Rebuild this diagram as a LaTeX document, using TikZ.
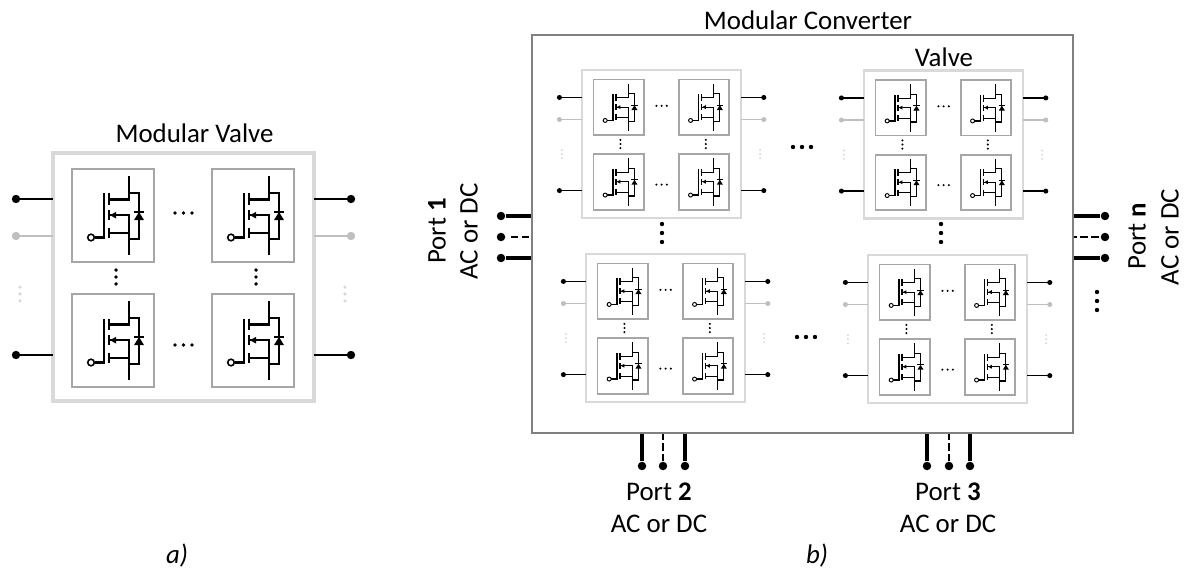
\documentclass[tikz,border=0pt]{standalone}
\usepackage{fontspec}
\setmainfont{Carlito}
\definecolor{valvegray}{HTML}{D9D9D9}
\definecolor{modgray}{HTML}{A6A6A6}
\definecolor{convgray}{HTML}{808080}
\definecolor{termgray}{HTML}{BFBFBF}
\tikzset{
  modbox/.style={draw=modgray,line width=\lf*1.7pt},
  valvebox/.style={draw=valvegray,line width=\lf*2.3pt},
  mosline/.style={line width=\lf*1.15pt},
  termline/.style={line width=\lf*1.5pt},
  portdot/.style={circle,fill=black,inner sep=0pt,minimum size=8.5pt*0.569},
  portline/.style={line width=1.8pt},
  portdash/.style={line width=1pt,dash pattern=on 4.2pt off 2pt},
  convbox/.style={draw=convgray,line width=1.2pt,minimum width=10.82cm,minimum height=7.96cm,inner sep=0pt},
  every node/.style={font=\fontsize{15.3}{18}\selectfont},
}
\begin{document}
\begin{tikzpicture}[x=0.02cm,y=-0.02cm]
  \useasboundingbox (0,0) rectangle (1184,571);
  \newcommand{\mosfet}[2]{
    \begin{scope}[shift={(#1,#2)}]
      \draw[modbox] (-41,-46.5) rectangle (41,46.5);
      \draw[mosline] (15.7,-39.3) -- (15.7,-16) -- (-4.3,-16);
      \draw[mosline] (-4.3,-22) -- (-4.3,-10.3);
      \draw[mosline] (-4.3,-5.3) -- (-4.3,4.7);
      \draw[mosline] (-4.3,12) -- (-4.3,22);
      \draw[mosline] (-4.3,-0.3) -- (15.7,-0.3) -- (15.7,39.7);
      \draw[mosline] (-4.3,17.3) -- (15.7,17.3);
      \fill (-3,-0.3) -- (3,-3.6) -- (3,3) -- cycle;
      \draw[mosline] (-9.3,-22) -- (-9.3,22) -- (-18.3,22);
      \draw[line width=\lf*0.9pt,fill=white] (-22,22) circle[radius=3.3];
      \draw[mosline] (15.7,-22.7) -- (26,-22.7) -- (26,23.7) -- (15.7,23.7);
      \fill (26,-3.5) -- (31,4.6) -- (21,4.6) -- cycle;
      \draw[mosline] (21,-3.5) -- (31,-3.5);
    \end{scope}
  }
  \newcommand{\dotrow}[4]{
    \foreach \t in {-1,0,1} {
      \fill[#4] (#1,#2) ++(\t*8.5,0) circle[radius=#3];
    }
  }
  \newcommand{\dotcol}[4]{
    \foreach \t in {-1,0,1} {
      \fill[#4] (#1,#2) ++(0,\t*6.9) circle[radius=#3];
    }
  }
  \newcommand{\valve}[4]{
    \begin{scope}[shift={(#1,#2)},xscale=#3,yscale=#4]
      \def\lf{#4}
      \draw[valvebox] (0,0) rectangle (261,248);
      \foreach \cx/\cy in {60/62.5,200/62.5,60/187.5,200/187.5} {
        \mosfet{\cx}{\cy}
      }
      \foreach \ty/\tc in {46/black,83/termgray,202/black} {
        \draw[termline,draw=\tc] (-37,\ty) -- (0,\ty);
        \draw[termline,draw=\tc] (261,\ty) -- (298,\ty);
        \fill[\tc] (-37,\ty) circle[radius=4.2];
        \fill[\tc] (298,\ty) circle[radius=4.2];
      }
      \dotcol{-33}{141}{1.8}{valvegray}
      \dotcol{292}{141}{1.8}{valvegray}
      \dotrow{130.5}{60}{1.9}{black}
      \dotrow{130.5}{192}{1.9}{black}
      \dotcol{63}{124}{1.9}{black}
      \dotcol{203}{124}{1.9}{black}
    \end{scope}
  }
  \valve{53}{153}{1}{1}
  \valve{582}{70}{0.61}{0.597}
  \valve{864}{70.5}{0.61}{0.597}
  \valve{586}{254}{0.61}{0.597}
  \valve{868}{255}{0.61}{0.597}
  \node[convbox] (conv) at (802.5,234) {};
  \foreach \name/\py in {a/216,b/237,c/258} {
    \node[portdot] (pw\name) at (501,\py) {};
    \node[portdot] (pe\name) at (1105,\py) {};
  }
  \foreach \name/\px in {a/642,b/663,c/685} {
    \node[portdot] (ps\name) at (\px,466) {};
  }
  \foreach \name/\px in {a/927,b/949,c/970} {
    \node[portdot] (pt\name) at (\px,466) {};
  }
  \draw[portline] (pwa) -- (pwa -| conv.west);
  \draw[portline] (pwc) -- (pwc -| conv.west);
  \draw[portdash,shorten <=3pt,shorten >=1pt] (pwb) -- (pwb -| conv.west);
  \draw[portline] (pea) -- (pea -| conv.east);
  \draw[portline] (pec) -- (pec -| conv.east);
  \draw[portdash,shorten <=1pt] (peb) -- (peb -| conv.east);
  \draw[portline] (psa) -- (psa |- conv.south);
  \draw[portline] (psc) -- (psc |- conv.south);
  \draw[portdash] (psb) -- (psb |- conv.south);
  \draw[portline] (pta) -- (pta |- conv.south);
  \draw[portline] (ptc) -- (ptc |- conv.south);
  \draw[portdash] (ptb) -- (ptb |- conv.south);
  \foreach \t in {793,802,811} {
    \fill (\t,147) circle[radius=2.2];
  }
  \foreach \t in {797,806,815} {
    \fill (\t,337) circle[radius=2.2];
  }
  \foreach \t in {224,233,242} {
    \fill (662,\t) circle[radius=2.2];
    \fill (941,\t) circle[radius=2.2];
  }
  \foreach \t in {292,301,310} {
    \fill (1097,\t) circle[radius=2.2];
  }
  \node (lblvalve) at (194.5,133) {Modular Valve};
  \node (lblconv) at (808,20) {Modular Converter};
  \node (lblsub) at (944,57) {Valve};
  \node[rotate=90] (lblpa) at (437,231) {Port \textbf{1}};
  \node[rotate=90] (lblpb) at (469,231.5) {AC or DC};
  \node[rotate=90] (lblpc) at (1137,236) {Port \textbf{n}};
  \node[rotate=90] (lblpd) at (1170,237) {AC or DC};
  \node (lblpe) at (659,492) {Port \textbf{2}};
  \node (lblpf) at (659,524) {AC or DC};
  \node (lblpg) at (948,492) {Port \textbf{3}};
  \node (lblph) at (948,524) {AC or DC};
  \node[inner sep=0pt] (lblcapa) at (177,556) {\textit{a)}};
  \node[inner sep=0pt] (lblcapb) at (817,556) {\textit{b)}};
\end{tikzpicture}
\end{document}
